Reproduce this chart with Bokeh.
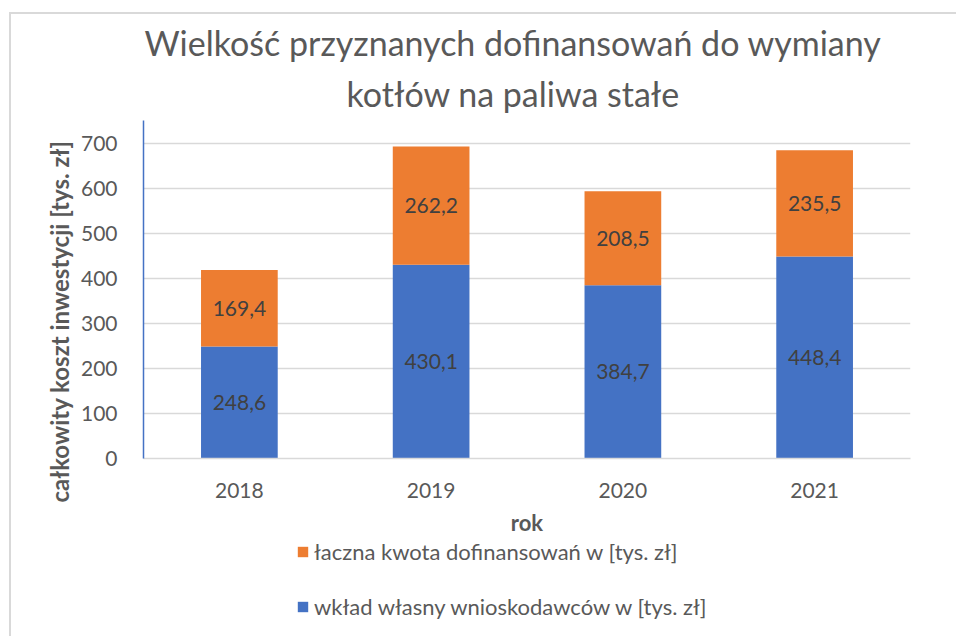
from bokeh.plotting import figure
from bokeh.layouts import column
from bokeh.models import ColumnDataSource, LabelSet, Title, Legend, LegendItem, FixedTicker, Range1d
from bokeh.core.properties import value
from bokeh.embed import file_html
from bokeh.resources import INLINE

years = ["2018", "2019", "2020", "2021"]
wklad = [248.6, 430.1, 384.7, 448.4]
dofin = [169.4, 262.2, 208.5, 235.5]
y_ticks = [0, 100, 200, 300, 400, 500, 600, 700]

FONT = "Lato"
GRAY = "#595959"
BLUE = "#4472C4"
ORANGE = "#ED7D31"

src = ColumnDataSource(dict(
    years=years, wklad=wklad, dofin=dofin,
    wmid=[w / 2 for w in wklad],
    dmid=[w + d / 2 for w, d in zip(wklad, dofin)],
    wtxt=[f"{w:.1f}".replace(".", ",") for w in wklad],
    dtxt=[f"{d:.1f}".replace(".", ",") for d in dofin],
))

p = figure(x_range=years, y_range=Range1d(0, 750), width=945, height=524,
           output_backend="svg", toolbar_location=None,
           min_border_left=132, min_border_right=46, min_border_top=106, min_border_bottom=80)
p.title.text = ""
p.outline_line_color = None

r = p.vbar_stack(["wklad", "dofin"], x="years", width=0.4, source=src,
                 color=[BLUE, ORANGE], line_color=None)

p.yaxis.ticker = FixedTicker(ticks=y_ticks)
p.ygrid.ticker = FixedTicker(ticks=y_ticks)
p.xgrid.grid_line_color = None
p.ygrid.grid_line_color = "#d9d9d9"
p.ygrid.grid_line_width = 1.5

p.yaxis.axis_line_color = BLUE
p.yaxis.axis_line_width = 1.5
p.xaxis.axis_line_color = "#d9d9d9"
p.xaxis.axis_line_width = 1.5
for ax in (p.xaxis, p.yaxis):
    ax.major_tick_line_color = None
    ax.minor_tick_line_color = None
    ax.major_label_text_font = FONT
    ax.major_label_text_font_size = "21px"
    ax.major_label_text_color = GRAY
    ax.axis_label_text_font = FONT
    ax.axis_label_text_font_style = "bold"
    ax.axis_label_text_color = GRAY
p.xaxis.axis_label_text_font_size = "22px"
p.yaxis.major_label_standoff = 20
p.xaxis.major_label_standoff = 18
p.xaxis.axis_label = "rok"
p.xaxis.axis_label_standoff = 8

# y axis title, placed like the original (not centred on the plot area)
p.add_layout(Title(text="całkowity koszt inwestycji [tys. zł]", align="left", offset=-44,
                   text_font=FONT, text_font_size="24px", text_font_style="bold",
                   text_color=GRAY, standoff=8), "left")

for ycol, tcol in (("wmid", "wtxt"), ("dmid", "dtxt")):
    p.add_layout(LabelSet(x="years", y=ycol, text=tcol, source=src,
                          text_align="center", text_baseline="middle",
                          text_font=value(FONT), text_font_size="21px", text_color="#404040"))

# title lines: first added sits closest to the plot
p.add_layout(Title(text="kotłów na paliwa stałe", align="left", offset=203,
                   text_font=FONT, text_font_size="34px", text_font_style="normal",
                   text_color=GRAY, standoff=13), "above")
p.add_layout(Title(text="Wielkość przyznanych dofinansowań do wymiany", align="left", offset=1,
                   text_font=FONT, text_font_size="34px", text_font_style="normal",
                   text_color=GRAY, standoff=4), "above")

# legend strip below the chart
q = figure(x_range=years, y_range=Range1d(0, 750), width=945, height=98,
           output_backend="svg", toolbar_location=None,
           x_axis_location=None, y_axis_location=None,
           min_border=0, min_border_left=0, min_border_right=0,
           min_border_top=0, min_border_bottom=0)
q.title.visible = False
q.outline_line_color = None
q.xgrid.visible = False
q.ygrid.visible = False
rq = q.vbar_stack(["wklad", "dofin"], x="years", width=0.4, source=src,
                  color=[BLUE, ORANGE], line_color=None)
for rr in rq:
    rr.visible = False

legend = Legend(items=[LegendItem(label="łaczna kwota dofinansowań w [tys. zł]", renderers=[rq[1]]),
                       LegendItem(label="wkład własny wnioskodawców w [tys. zł]", renderers=[rq[0]])],
                location=(153, 16), orientation="vertical", spacing=28,
                glyph_width=13, glyph_height=13, label_text_font=FONT,
                label_text_font_size="22px", label_text_color=GRAY,
                border_line_color=None, background_fill_alpha=0, padding=0, margin=0,
                label_standoff=5, inactive_fill_alpha=0, click_policy="none")
q.add_layout(legend, "center")

layout = column(p, q, spacing=0)
layout.styles = {"border-left": "2px solid #d9d9d9", "border-top": "2px solid #d9d9d9",
                 "margin-left": "9px", "margin-top": "12px"}

open("out.html", "w").write(file_html(layout, INLINE))
